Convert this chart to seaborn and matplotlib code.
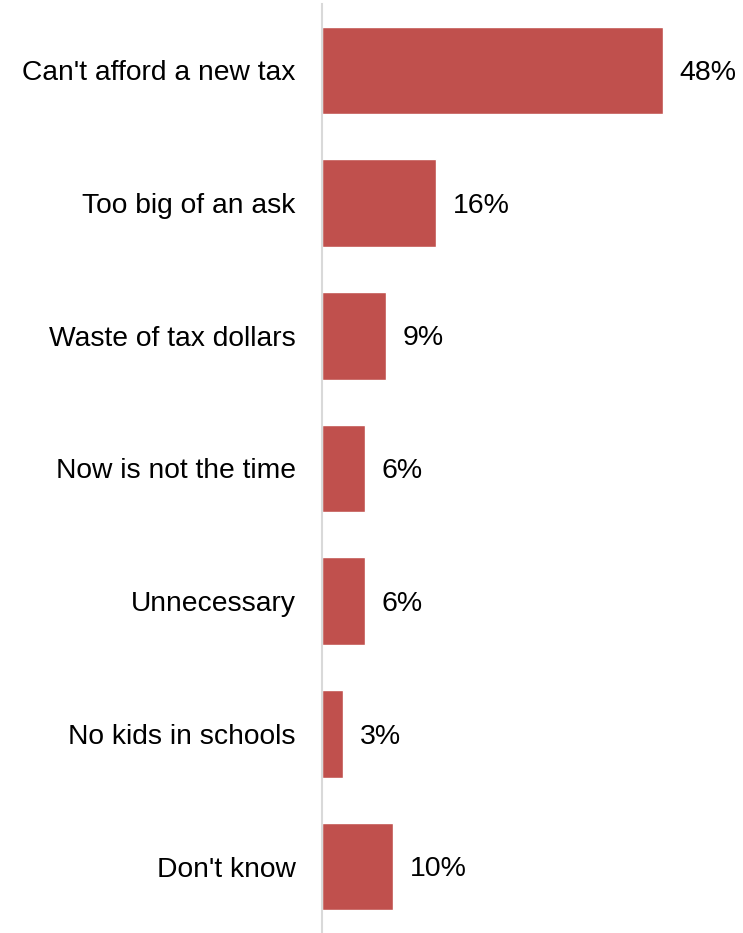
import numpy as np
import pandas as pd
import matplotlib.pyplot as plt
import seaborn as sns

reasons = ["Can't afford a new tax", "Too big of an ask", "Waste of tax dollars",
           "Now is not the time", "Unnecessary", "No kids in schools", "Don't know"]
pct = [48, 16, 9, 6, 6, 3, 10]

data = pd.DataFrame({"Reason": reasons, "Percent": pct})

sns.set_style("white")
plt.rcParams['font.family'] = ['Liberation Sans', 'DejaVu Sans']

fig = plt.figure(figsize=(7.43, 9.33), dpi=100)
ax = fig.add_axes([322/743, 0, 355/743, 929/933])

sns.barplot(x="Percent", y="Reason", data=data, color="#C0504D", width=0.66,
            saturation=1, ax=ax)

for i, v in enumerate(pct):
    ax.text(v + 2.4, i + 0.02, f"{v}%", va="center", ha="left", fontsize=20.5, color="black")

ax.set_xlim(0, 50)
ax.set_ylim(6.5, -0.5)
ax.set_xlabel("")
ax.set_ylabel("")
ax.set_xticks([])
ax.tick_params(axis="y", length=0, pad=19, labelsize=20.3, labelcolor="black")
for s in ["top", "right", "bottom"]:
    ax.spines[s].set_visible(False)
ax.spines["left"].set_color("#D9D9D9")
ax.spines["left"].set_linewidth(1.5)

fig.savefig("out.png", dpi=100)
